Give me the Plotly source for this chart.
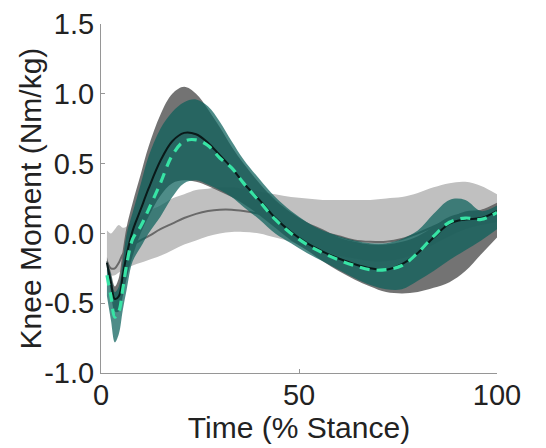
import plotly.graph_objects as go

# Percent of stance at which each curve is sampled
stance = [1.5, 2.5, 3.5, 4.5, 5.5, 6.5, 8, 10, 12, 15, 18, 21, 24, 27, 30, 33, 36,
          40, 44, 48, 52, 56, 60, 64, 68, 72, 76, 80, 84, 88, 92, 96, 100]

# Condition A (light grey): mean and +/- SD band
grey_mean = [-0.2, -0.25, -0.25, -0.21, -0.15, -0.12, -0.08, -0.05, -0.02, 0.03, 0.07, 0.11, 0.14,
             0.16, 0.17, 0.17, 0.16, 0.14, 0.11, 0.08, 0.04, 0.01, -0.02, -0.05, -0.06, -0.06,
             -0.04, 0.0, 0.05, 0.1, 0.15, 0.16, 0.18]
grey_upper = [0.02, 0.0, 0.03, 0.06, 0.04, 0.05, 0.08, 0.12, 0.16, 0.2, 0.25, 0.28, 0.31, 0.32,
              0.33, 0.33, 0.32, 0.3, 0.28, 0.26, 0.25, 0.24, 0.24, 0.24, 0.24, 0.25, 0.26, 0.29,
              0.33, 0.36, 0.37, 0.34, 0.28]
grey_lower = [-0.25, -0.3, -0.3, -0.28, -0.27, -0.25, -0.23, -0.21, -0.19, -0.16, -0.12, -0.08,
              -0.05, -0.02, 0.0, 0.01, 0.01, 0.0, -0.03, -0.06, -0.1, -0.13, -0.16, -0.18, -0.2,
              -0.2, -0.18, -0.14, -0.08, -0.02, 0.03, 0.06, 0.08]

# Condition B (dark grey band, solid black mean)
dark_mean = [-0.21, -0.35, -0.47, -0.45, -0.3, -0.15, 0.02, 0.17, 0.32, 0.52, 0.66, 0.72, 0.71,
             0.65, 0.56, 0.47, 0.36, 0.24, 0.11, 0.01, -0.07, -0.13, -0.18, -0.22, -0.25, -0.26,
             -0.22, -0.14, -0.03, 0.07, 0.1, 0.11, 0.16]
dark_upper = [-0.17, -0.28, -0.38, -0.32, -0.12, 0.05, 0.22, 0.42, 0.62, 0.85, 1.0, 1.05, 1.0,
              0.89, 0.76, 0.62, 0.5, 0.36, 0.24, 0.15, 0.08, 0.03, -0.03, -0.06, -0.08, -0.08,
              -0.06, -0.02, 0.05, 0.12, 0.15, 0.17, 0.22]
dark_lower = [-0.25, -0.42, -0.56, -0.56, -0.45, -0.32, -0.16, 0.0, 0.12, 0.27, 0.36, 0.38, 0.37,
              0.34, 0.3, 0.26, 0.21, 0.13, 0.04, -0.05, -0.12, -0.2, -0.27, -0.33, -0.38, -0.42,
              -0.43, -0.42, -0.39, -0.35, -0.27, -0.15, -0.03]

# Condition C (teal band, dashed green mean)
teal_mean = [-0.3, -0.45, -0.6, -0.56, -0.4, -0.22, -0.04, 0.05, 0.17, 0.36, 0.56, 0.66, 0.67,
             0.63, 0.54, 0.47, 0.36, 0.23, 0.1, 0.0, -0.08, -0.14, -0.19, -0.23, -0.26, -0.26,
             -0.23, -0.14, -0.02, 0.08, 0.11, 0.1, 0.15]
teal_upper = [-0.2, -0.3, -0.42, -0.38, -0.2, 0.0, 0.15, 0.35, 0.55, 0.75, 0.87, 0.94, 0.96,
              0.91, 0.8, 0.66, 0.53, 0.39, 0.26, 0.16, 0.08, 0.02, -0.02, -0.05, -0.07, -0.07,
              -0.04, 0.02, 0.14, 0.24, 0.24, 0.16, 0.2]
teal_lower = [-0.45, -0.62, -0.78, -0.72, -0.55, -0.4, -0.2, -0.1, 0.0, 0.12, 0.26, 0.36, 0.38,
              0.35, 0.31, 0.26, 0.19, 0.1, 0.0, -0.07, -0.14, -0.2, -0.26, -0.32, -0.37, -0.4,
              -0.4, -0.34, -0.27, -0.19, -0.12, -0.05, 0.03]

x_ticks = [0, 50, 100]
y_ticks = [-1.0, -0.5, 0.0, 0.5, 1.0, 1.5]

FONT = "Liberation Sans, Arial, sans-serif"
TEXT = "#222222"

fig = go.Figure()


def band(upper, lower, fill):
    fig.add_trace(go.Scatter(x=stance, y=upper, mode="lines", line=dict(width=0, shape="spline"),
                             hoverinfo="skip", showlegend=False))
    fig.add_trace(go.Scatter(x=stance, y=lower, mode="lines", line=dict(width=0, shape="spline"),
                             fill="tonexty", fillcolor=fill, hoverinfo="skip", showlegend=False))


band(grey_upper, grey_lower, "rgb(192,192,192)")
band(dark_upper, dark_lower, "rgba(90,90,90,0.85)")
fig.add_trace(go.Scatter(x=stance, y=grey_mean, mode="lines",
                         line=dict(color="rgb(105,105,105)", width=2, shape="spline"),
                         showlegend=False))
band(teal_upper, teal_lower, "rgba(10,95,90,0.72)")
fig.add_trace(go.Scatter(x=stance, y=dark_mean, mode="lines",
                         line=dict(color="rgb(10,25,25)", width=2, shape="spline"),
                         showlegend=False))
fig.add_trace(go.Scatter(x=stance, y=teal_mean, mode="lines",
                         line=dict(color="rgb(55,228,165)", width=3.2, shape="spline",
                                   dash="10px,7px"),
                         showlegend=False))

axis_common = dict(showline=True, linecolor="rgb(150,150,150)", linewidth=1,
                   ticks="inside", ticklen=4, tickcolor="rgb(150,150,150)",
                   showgrid=False, zeroline=False,
                   tickfont=dict(family=FONT, size=29, color=TEXT))

fig.update_xaxes(range=[0, 100], tickvals=x_ticks, ticktext=[str(v) for v in x_ticks],
                 ticklabelstandoff=-4,
                 title=dict(text="Time (% Stance)", font=dict(family=FONT, size=30, color=TEXT),
                            standoff=4),
                 **axis_common)
fig.update_yaxes(range=[-1.0, 1.5], tickvals=y_ticks, ticktext=[f"{v:.1f}" for v in y_ticks],
                 **axis_common)

# y-axis title placed as a rotated annotation
fig.add_annotation(text="Knee Moment (Nm/kg)", xref="paper", yref="paper",
                   x=-0.177, y=0.5, xanchor="center", yanchor="middle", textangle=-90,
                   showarrow=False, font=dict(family=FONT, size=30, color=TEXT))

fig.update_layout(width=546, height=448, margin=dict(l=101, r=49, t=24, b=75, autoexpand=False),
                  plot_bgcolor="white", paper_bgcolor="white")

fig.write_html("out.html")
